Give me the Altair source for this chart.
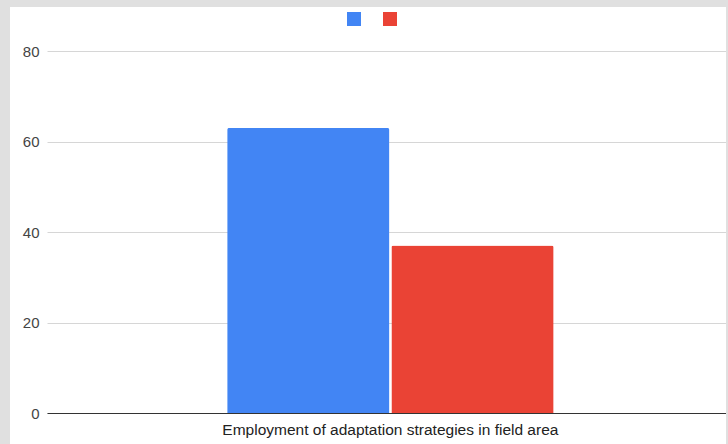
import altair as alt
import pandas as pd

category = ["Employment of adaptation strategies in field area"]
series = ["Series 1", "Series 2"]
values = [63, 37]
colors = ["#4285F4", "#EA4335"]
y_ticks = [0, 20, 40, 60, 80]

df = pd.DataFrame({
    "category": category * len(series),
    "series": series,
    "value": values,
})

W, H = 679, 362
GRAY = "#e0e0e0"
frame = alt.Data(values=[{"a": 1}])

top_strip = alt.Chart(frame).mark_rect(color=GRAY).encode(
    x=alt.value(-47), x2=alt.value(W + 2), y=alt.value(-51), y2=alt.value(-44)
)
left_strip = alt.Chart(frame).mark_rect(color=GRAY).encode(
    x=alt.value(-47), x2=alt.value(-37), y=alt.value(-51), y2=alt.value(H + 31)
)
right_strip = alt.Chart(frame).mark_rect(color=GRAY).encode(
    x=alt.value(W), x2=alt.value(W + 2), y=alt.value(-51), y2=alt.value(H + 31)
)

bars = alt.Chart(df).mark_bar(cornerRadiusTopLeft=2, cornerRadiusTopRight=2).encode(
    x=alt.X("category:N", title=None,
            scale=alt.Scale(paddingInner=0, paddingOuter=0.54, align=0.511),
            axis=alt.Axis(labelAngle=0, ticks=False, domainColor="#333333", domainWidth=1.2,
                          labelFont="Liberation Sans", labelFontSize=15.5, labelColor="#222222",
                          labelPadding=9, labelLimit=0, grid=False)),
    xOffset=alt.XOffset("series:N", scale=alt.Scale(paddingInner=0.012, paddingOuter=0)),
    y=alt.Y("value:Q", title=None,
            scale=alt.Scale(domain=[0, 80], nice=False),
            axis=alt.Axis(values=y_ticks, ticks=False, domain=False, gridColor="#d6d6d6",
                          labelFont="Liberation Sans", labelFontSize=15, labelColor="#444444",
                          labelPadding=8)),
    color=alt.Color("series:N", scale=alt.Scale(domain=series, range=colors),
                    legend=alt.Legend(orient="none", legendX=300, legendY=-39, direction="horizontal",
                                      title=None, labelExpr="''", symbolType="square", symbolSize=196,
                                      symbolStrokeWidth=0, symbolOpacity=1, labelOffset=0,
                                      columnPadding=22, padding=0)),
)

chart = alt.layer(bars, top_strip, left_strip, right_strip).properties(
    width=W, height=H,
    background="white",
    padding={"left": 47, "top": 51, "right": 2, "bottom": 31},
    autosize=alt.AutoSizeParams(type="none"),
).configure_view(stroke=None)

chart.save("out.html", embed_options={"renderer": "svg", "actions": False})
